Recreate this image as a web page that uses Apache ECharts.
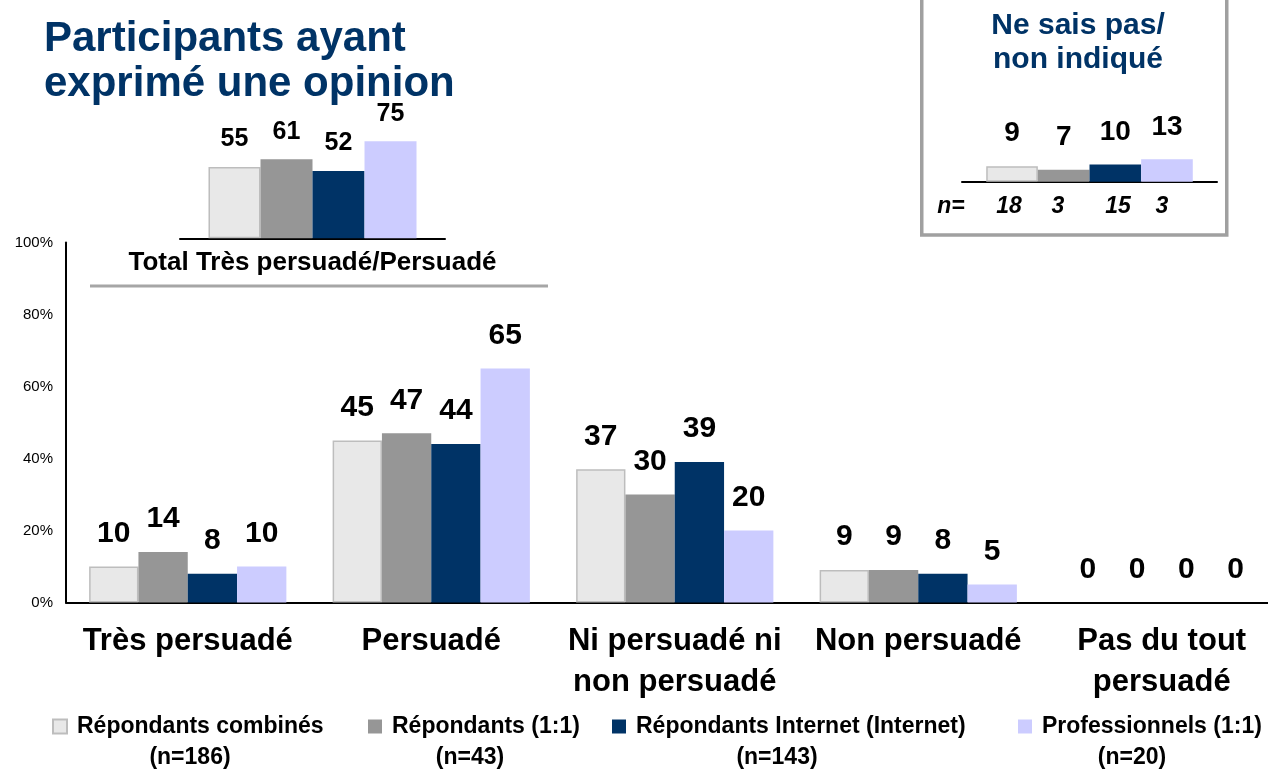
<!DOCTYPE html>
<html>
<head>
<meta charset="utf-8">
<script src="https://cdn.jsdelivr.net/npm/echarts@6/dist/echarts.min.js"></script>
<style>
    html, body { margin: 0; padding: 0; background: #fff; }
    #main { width: 1268px; height: 772px; }
</style>
</head>
<body>
<div id="main"></div>
<script>
//数据
let categories = ["Très persuadé", "Persuadé", "Ni persuadé ni\nnon persuadé", "Non persuadé", "Pas du tout\npersuadé"];
let seriesNames = ["Répondants combinés", "Répondants (1:1)", "Répondants Internet (Internet)", "Professionnels (1:1)"];
let seriesN = ["(n=186)", "(n=43)", "(n=143)", "(n=20)"];
let combines = [10, 45, 37, 9, 0];
let repondants = [14, 47, 30, 9, 0];
let internet = [8, 44, 39, 8, 0];
let professionnels = [10, 65, 20, 5, 0];
let totalCategory = ["Total Très persuadé/Persuadé"];
let totalValues = [55, 61, 52, 75];
let nspValues = [9, 7, 10, 13];
let nspN = [18, 3, 15, 3];

//样式
const FONT = "'Liberation Sans', Arial, sans-serif";
let colors = ["#E8E8E8", "#969696", "#003366", "#CCCCFF"];
let legendLeft = [52, 368, 612, 1018];
let legendNx = [190, 470, 777, 1132];
let nspNx = [1009, 1058, 1118, 1162];

function barStyle(i) {
    let s = { color: colors[i] };
    if (i === 0) {
        s.borderColor = "#BDBDBD";
        s.borderWidth = 1.5;
    }
    return s;
}

function barLabel(size, dist) {
    return {
        show: true, position: "top", distance: dist,
        color: "#000", fontFamily: FONT, fontWeight: "bold",
        fontSize: size, lineHeight: size
    };
}

function hiddenY(index) {
    return { type: "value", gridIndex: index, min: 0, max: 100, show: false };
}

//0值不画边框
function barData(values) {
    return values.map(v => v === 0 ? { value: v, itemStyle: { borderWidth: 0 } } : v);
}

//生成series
function createSeries() {
    let mainData = [combines, repondants, internet, professionnels];
    let list = [];
    mainData.forEach((data, i) => {
        list.push({
            name: seriesNames[i], type: "bar", xAxisIndex: 0, yAxisIndex: 0,
            data: barData(data), barGap: "0%", barCategoryGap: "19%",
            itemStyle: barStyle(i), label: barLabel(30, 18)
        });
    });
    totalValues.forEach((v, i) => {
        list.push({
            name: seriesNames[i], type: "bar", xAxisIndex: 1, yAxisIndex: 1,
            data: [v], barGap: "0%", barCategoryGap: "21.5%",
            itemStyle: barStyle(i), label: barLabel(25, 15)
        });
    });
    nspValues.forEach((v, i) => {
        list.push({
            name: seriesNames[i], type: "bar", xAxisIndex: 2, yAxisIndex: 2,
            data: [v], barGap: "0%", barCategoryGap: "19%",
            itemStyle: barStyle(i), label: barLabel(28, 18.5)
        });
    });
    return list;
}

//图例
function createLegend() {
    return seriesNames.map((name, i) => ({
        data: [name], left: legendLeft[i], top: 715, padding: 0,
        icon: "rect", itemWidth: 14, itemHeight: 14, selectedMode: false,
        formatter: "{t|{name}}",
        textStyle: {
            rich: {
                t: { fontFamily: FONT, fontWeight: "bold", fontSize: 23, color: "#000", lineHeight: 26, padding: [0, 0, 0, 5] }
            }
        }
    }));
}

//文字和边框
function createGraphic() {
    let g = [];
    g.push({
        type: "rect", z: -1, silent: true,
        shape: { x: 921.75, y: -10, width: 305, height: 245 },
        style: { fill: "transparent", stroke: "#A0A0A0", lineWidth: 3.5 }
    });
    g.push({
        type: "text", x: 1078, y: 9,
        style: {
            text: "Ne sais pas/\nnon indiqué", align: "center", verticalAlign: "top",
            fontFamily: FONT, fontWeight: "bold", fontSize: 30, lineHeight: 34, fill: "#003366"
        }
    });
    g.push({
        type: "text", x: 951, y: 206.5,
        style: {
            text: "n=", align: "center", verticalAlign: "middle",
            fontFamily: FONT, fontWeight: "bold", fontStyle: "italic", fontSize: 23, fill: "#000"
        }
    });
    nspN.forEach((n, i) => {
        g.push({
            type: "text", x: nspNx[i], y: 206.5,
            style: {
                text: String(n), align: "center", verticalAlign: "middle",
                fontFamily: FONT, fontWeight: "bold", fontStyle: "italic", fontSize: 23, fill: "#000"
            }
        });
    });
    g.push({
        type: "line", silent: true,
        shape: { x1: 90, y1: 286, x2: 548, y2: 286 },
        style: { stroke: "#A6A6A6", lineWidth: 3 }
    });
    seriesN.forEach((t, i) => {
        g.push({
            type: "text", x: legendNx[i], y: 757.5,
            style: {
                text: t, align: "center", verticalAlign: "middle",
                fontFamily: FONT, fontWeight: "bold", fontSize: 23, fill: "#000"
            }
        });
    });
    return g;
}

let option = {
    animation: false,
    backgroundColor: "#fff",
    title: {
        text: "Participants ayant\nexprimé une opinion",
        left: 44, top: 17, padding: 0,
        textStyle: { fontFamily: FONT, fontWeight: "bold", fontSize: 42, lineHeight: 45, color: "#003366" }
    },
    legend: createLegend(),
    grid: [
        { left: 66, right: -15.5, top: 242.5, bottom: 169.5, outerBoundsMode: "none" },
        { left: 180, width: 265, top: 108.8, height: 129.5, outerBoundsMode: "none" },
        { left: 962, width: 255, top: 9.7, height: 172, outerBoundsMode: "none" }
    ],
    xAxis: [
        {
            type: "category", gridIndex: 0, data: categories,
            axisLine: { lineStyle: { color: "#000", width: 2 } },
            axisTick: { show: false },
            axisLabel: {
                interval: 0, margin: 18.5, color: "#000", fontFamily: FONT,
                fontWeight: "bold", fontSize: 31, lineHeight: 41
            }
        },
        {
            type: "category", gridIndex: 1, data: totalCategory,
            axisLine: { lineStyle: { color: "#000", width: 2 } },
            axisTick: { show: false },
            axisLabel: {
                interval: 0, margin: 10, color: "#000", fontFamily: FONT,
                fontWeight: "bold", fontSize: 26, lineHeight: 30
            }
        },
        {
            type: "category", gridIndex: 2, data: [""],
            axisLine: { lineStyle: { color: "#000", width: 2 } },
            axisTick: { show: false },
            axisLabel: { show: false }
        }
    ],
    yAxis: [
        {
            type: "value", gridIndex: 0, min: 0, max: 100, interval: 20,
            axisLine: { show: true, lineStyle: { color: "#000", width: 2 } },
            axisTick: { show: false },
            splitLine: { show: false },
            axisLabel: { formatter: "{value}%", margin: 13, color: "#000", fontFamily: FONT, fontSize: 15 }
        },
        hiddenY(1),
        hiddenY(2)
    ],
    series: createSeries(),
    graphic: createGraphic()
};

let myChart = echarts.init(document.getElementById("main"));
myChart.setOption(option);
</script>
</body>
</html>
